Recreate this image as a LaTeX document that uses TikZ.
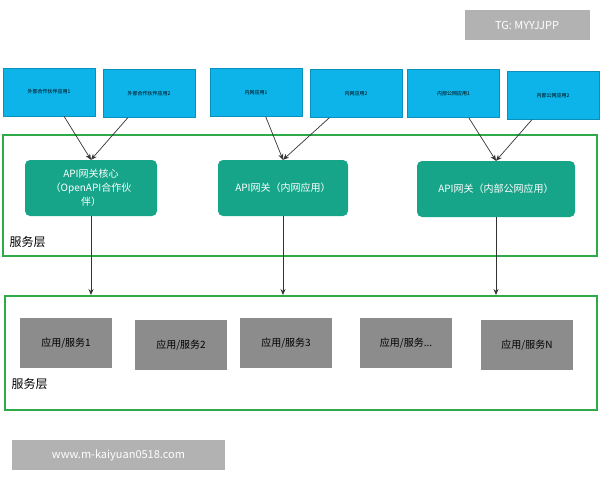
\documentclass[tikz,border=0pt]{standalone}
\usepackage{fontspec}
\setmainfont{Noto Sans CJK SC}
\usetikzlibrary{arrows.meta}
\definecolor{blu}{HTML}{0DB4EA}
\definecolor{gw}{HTML}{17A589}
\definecolor{frm}{HTML}{2EAA48}
\definecolor{svc}{HTML}{8C8C8C}
\tikzset{
 app/.style={draw=blu!80!black,fill=blu,minimum width=92pt,minimum height=48pt,inner sep=1pt,font=\fontsize{5}{6}\selectfont},
 gwy/.style={fill=gw,rounded corners=5pt,text=white,minimum height=56pt,align=center,font=\fontsize{10}{14}\selectfont},
 frame/.style={draw=frm,line width=1.5pt},
 svcb/.style={fill=svc,minimum width=92pt,minimum height=50pt,font=\fontsize{10}{12}\selectfont},
 arr/.style={draw=gray!40!black,line width=0.7pt,-{Stealth[length=6pt,width=5pt]}},
 layer/.style={anchor=west,font=\fontsize{12}{14}\selectfont},
 wm/.style={fill=gray!60,text=white,font=\fontsize{11}{13}\selectfont}
}
\begin{document}
\begin{tikzpicture}[x=1pt,y=-1pt]
\useasboundingbox (0,0) rectangle (600,480);
\node[frame,minimum width=594pt,minimum height=121pt] (f1) at (300,195.5) {};
\node[frame,minimum width=592pt,minimum height=114pt] (f2) at (301,353) {};
\node[layer] (l1) at (6,242) {服务层};
\node[layer] (l2) at (8,384) {服务层};
\node[app] (a1) at (49,92) {外部合作伙伴应用1};
\node[app] (a2) at (149,93.5) {外部合作伙伴应用2};
\node[app] (a3) at (256,92.5) {内网应用1};
\node[app] (a4) at (356,93.5) {内网应用2};
\node[app] (a5) at (453.5,93.5) {内部公网应用1};
\node[app] (a6) at (553,95.5) {内部公网应用2};
\node[gwy,minimum width=132pt,text width=120pt] (g1) at (91,188) {API网关核心\\（OpenAPI合作伙\\伴）};
\node[gwy,minimum width=130pt] (g2) at (283,188) {API网关（内网应用）};
\node[gwy,minimum width=158pt] (g3) at (496,189) {API网关（内部公网应用）};
\node[svcb] (s1) at (66,343) {应用/服务1};
\node[svcb] (s2) at (181,345) {应用/服务2};
\node[svcb] (s3) at (286,343) {应用/服务3};
\node[svcb] (s4) at (406,343) {应用/服务...};
\node[svcb] (s5) at (527,345) {应用/服务N};
\draw[arr] (a1) -- (g1.north);
\draw[arr] (a2) -- (g1.north);
\draw[arr] (a3) -- (g2.north);
\draw[arr] (a4) -- (g2.north);
\draw[arr] (a5) -- (g3.north);
\draw[arr] (a6) -- (g3.north);
\coordinate (e1) at (91,295);
\coordinate (e2) at (283,295);
\coordinate (e3) at (496,295);
\draw[arr] (g1) -- (e1);
\draw[arr] (g2) -- (e2);
\draw[arr] (g3) -- (e3);
\node[wm,minimum width=125pt,minimum height=30pt] (w1) at (527,25) {TG: MYYJJPP};
\node[wm,minimum width=213pt,minimum height=30pt] (w2) at (118.5,455) {www.m-kaiyuan0518.com};
\end{tikzpicture}
\end{document}
